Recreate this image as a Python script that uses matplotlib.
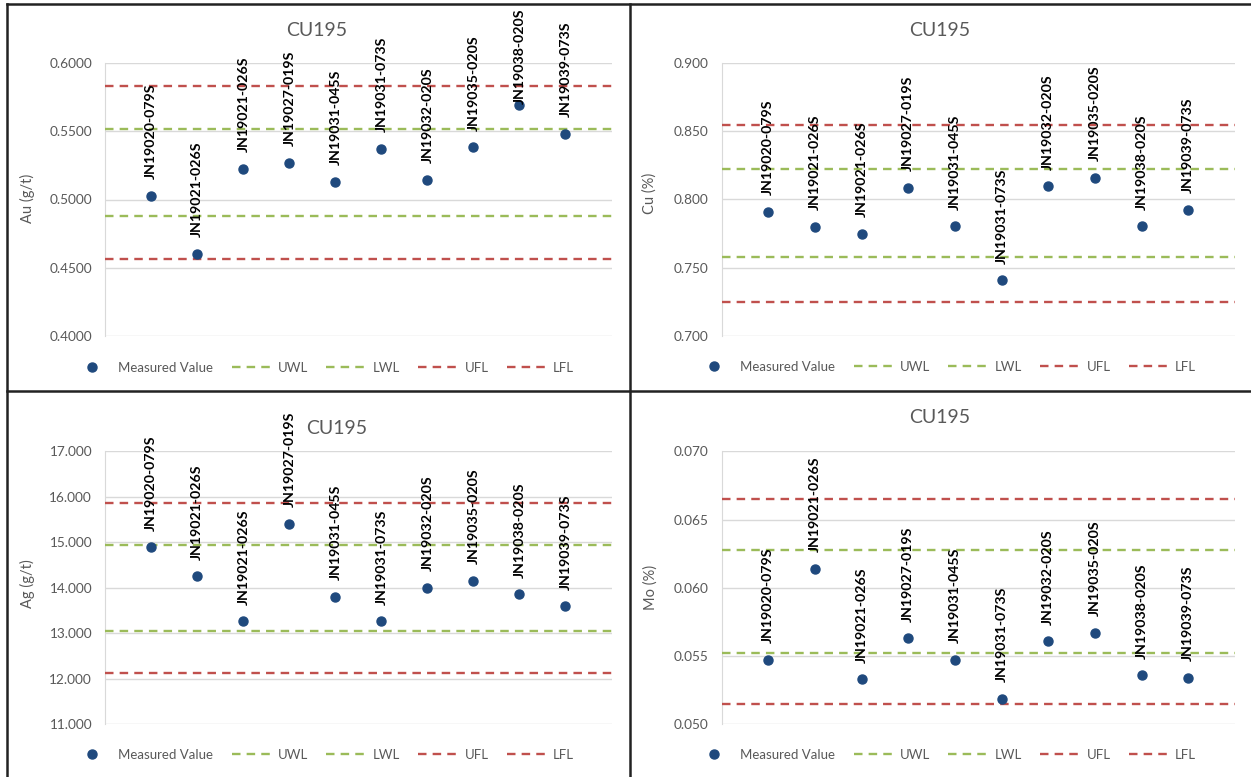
import matplotlib.pyplot as plt
from matplotlib.lines import Line2D
from matplotlib.ticker import FormatStrFormatter, MultipleLocator

plt.rcParams["font.family"] = ["Lato", "DejaVu Sans"]

STANDARD = "CU195"
SAMPLES = ["JN19020-079S", "JN19021-026S", "JN19021-026S", "JN19027-019S", "JN19031-045S",
           "JN19031-073S", "JN19032-020S", "JN19035-020S", "JN19038-020S", "JN19039-073S"]
LIMIT_NAMES = ["UWL", "LWL", "UFL", "LFL"]

au_values = [0.5027, 0.4600, 0.5225, 0.5267, 0.5130, 0.5370, 0.5145, 0.5382, 0.5690, 0.5480]
au_limits = [0.5514, 0.4881, 0.5834, 0.4563]

cu_values = [0.7908, 0.7800, 0.7747, 0.8086, 0.7803, 0.7407, 0.8096, 0.8159, 0.7803, 0.7925]
cu_limits = [0.8220, 0.7576, 0.8545, 0.7250]

ag_values = [14.89, 14.25, 13.26, 15.40, 13.80, 13.26, 14.00, 14.15, 13.86, 13.59]
ag_limits = [14.94, 13.06, 15.87, 12.13]

mo_values = [0.05471, 0.06138, 0.05330, 0.05630, 0.05471, 0.05188, 0.05608, 0.05672, 0.05359, 0.05340]
mo_limits = [0.06275, 0.05525, 0.06651, 0.05149]

MARKER = "#1F497D"
LIMIT_COLORS = ["#9BBB59", "#9BBB59", "#C0504D", "#C0504D"]
GREY = "#595959"
GRID = "#D9D9D9"
LABEL_OFFSET = 12  # points above the marker centre

W, H = 1251, 777
fig = plt.figure(figsize=(W / 100, H / 100), dpi=100)
labels = []  # (annotation, highest allowed pixel row)


def px_axes(left, top, right, bottom):
    return fig.add_axes([left / W, 1 - bottom / H, (right - left) / W, (bottom - top) / H])


def draw_panel(box, panel_top, values, limits, ylabel, ylim, step, fmt, title_xy, ylabel_xy, legend_xy):
    ax = px_axes(*box)
    x = range(1, len(values) + 1)
    ax.plot(x, values, "o", color=MARKER, ms=6.5, label="Measured Value", zorder=4)
    for name, level, col in zip(LIMIT_NAMES, limits, LIMIT_COLORS):
        ax.axhline(level, color=col, lw=1.7, dashes=(3.6, 2.6), label=name, zorder=3)

    # sample ids sit above each point, rotated like the spreadsheet data labels
    for xi, v, s in zip(x, values, SAMPLES):
        ann = ax.annotate(s, (xi, v), xytext=(0, LABEL_OFFSET), textcoords="offset points",
                          rotation=90, ha="center", va="bottom", fontsize=10.2,
                          fontweight="bold", color="black", zorder=5, annotation_clip=False)
        labels.append((ann, panel_top + 5))

    ax.set_xlim(0, len(values) + 1)
    ax.set_ylim(*ylim)
    ax.yaxis.set_major_locator(MultipleLocator(step))
    ax.yaxis.set_major_formatter(FormatStrFormatter(fmt))
    ax.set_xticks([])
    ax.tick_params(axis="y", length=0, pad=9.5, labelsize=9.8, labelcolor=GREY)
    ax.grid(axis="y", color=GRID, lw=1)
    ax.set_axisbelow(True)
    for side in ["top", "right", "bottom"]:
        ax.spines[side].set_visible(False)
    ax.spines["left"].set_color(GRID)
    ax.patch.set_alpha(0)

    fig.text(title_xy[0] / W, 1 - title_xy[1] / H, STANDARD, ha="center", va="center",
             fontsize=14, color=GREY)
    fig.text(ylabel_xy[0] / W, 1 - ylabel_xy[1] / H, ylabel, ha="center", va="center",
             rotation=90, fontsize=10.5, color=GREY)
    ax.legend(ncol=5, loc="center", bbox_to_anchor=(legend_xy[0] / W, 1 - legend_xy[1] / H),
              bbox_transform=fig.transFigure, frameon=False, fontsize=9.5,
              handlelength=3.0, handletextpad=0.5, columnspacing=1.4, labelcolor=GREY)
    return ax


draw_panel((105.3, 63, 611.5, 336), 3.5, au_values, au_limits, "Au (g/t)", (0.40, 0.60), 0.05, "%.4f",
           (317, 31), (27, 198), (323, 368))
draw_panel((721.6, 63, 1235, 336), 3.5, cu_values, cu_limits, "Cu (%)", (0.70, 0.90), 0.05, "%.3f",
           (940, 31), (650, 193), (945, 367))
draw_panel((105.3, 451.3, 611.5, 724.3), 391, ag_values, ag_limits, "Ag (g/t)", (11, 17), 1, "%.3f",
           (337, 428), (27, 584), (323, 755))
draw_panel((721.6, 451.3, 1235, 724.3), 391, mo_values, mo_limits, "Mo (%)", (0.050, 0.070), 0.005, "%.3f",
           (940, 418), (651, 587), (945, 755))

# labels that would run past the panel edge get pushed down onto their point
renderer = fig.canvas.get_renderer()
for ann, top_px in labels:
    bb = ann.get_window_extent(renderer)
    over = bb.y1 - (H - top_px)
    if over > 0:
        ann.xyann = (0, LABEL_OFFSET - over * 72 / fig.dpi)

# panel frame: outer left/top edge and the dividing cross
frame = dict(color="#222222", lw=1.8, transform=fig.transFigure)
fig.add_artist(Line2D([6.5 / W, 6.5 / W], [0, 1 - 3.5 / H], **frame))
fig.add_artist(Line2D([6.5 / W, 1], [1 - 3.5 / H, 1 - 3.5 / H], **frame))
fig.add_artist(Line2D([630 / W, 630 / W], [0, 1 - 3.5 / H], **frame))
fig.add_artist(Line2D([6.5 / W, 1], [1 - 391 / H, 1 - 391 / H], **frame))

fig.savefig("out.png", dpi=100, facecolor="white")
